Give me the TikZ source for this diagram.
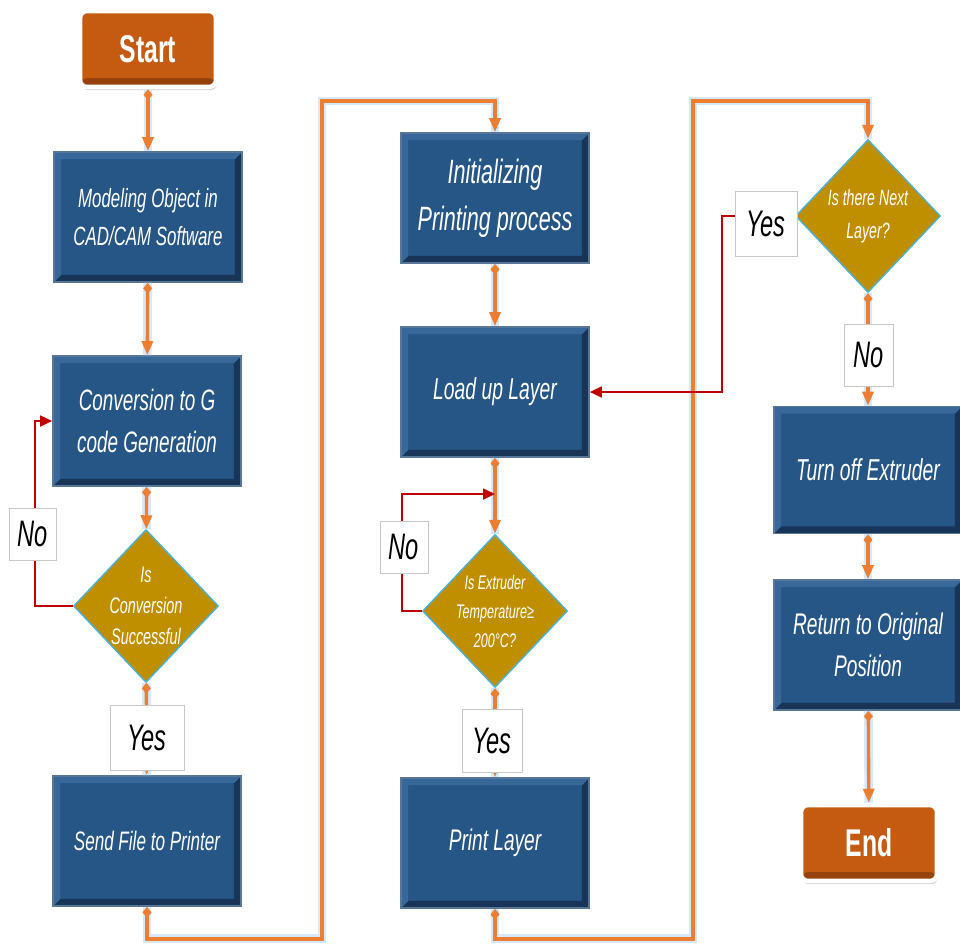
\documentclass[tikz,border=0pt]{standalone}
\usepackage{fontspec}
\setmainfont{Liberation Sans}
\newfontfamily\flowfont[FakeStretch=0.64]{Liberation Sans}
\usetikzlibrary{arrows.meta,shapes.geometric,shadows}
\definecolor{BoxBlue}{RGB}{37,86,134}
\definecolor{BoxLight}{RGB}{55,104,153}
\definecolor{BoxDark}{RGB}{24,52,86}
\definecolor{BoxEdge}{RGB}{88,118,152}
\definecolor{DecGold}{RGB}{191,143,0}
\definecolor{DecEdge}{RGB}{70,178,222}
\definecolor{TermOrange}{RGB}{197,90,17}
\definecolor{TermDark}{RGB}{150,66,12}
\definecolor{FlowOrange}{RGB}{237,125,49}
\definecolor{Glow}{RGB}{212,233,251}
\definecolor{LoopRed}{RGB}{192,0,0}

\begin{document}
\begin{tikzpicture}[
    x=0.02cm, y=-0.02cm,
    txt/.style 2 args={font=\flowfont\itshape\fontsize{#1}{#2}\selectfont},
    proc/.style={draw=BoxEdge, line width=1pt, fill=BoxBlue, minimum width=3.76cm,
      minimum height=2.6cm, inner sep=2pt, align=center, text=white,
      path picture={
        \fill[BoxDark] (path picture bounding box.south west) -- (path picture bounding box.south east)
          -- (path picture bounding box.north east) -- ([xshift=-4pt,yshift=-4pt]path picture bounding box.north east)
          -- ([xshift=-4pt,yshift=4pt]path picture bounding box.south east) -- ([xshift=4pt,yshift=4pt]path picture bounding box.south west) -- cycle;
        \fill[BoxLight] (path picture bounding box.south west) -- (path picture bounding box.north west)
          -- (path picture bounding box.north east) -- ([xshift=-4pt,yshift=-4pt]path picture bounding box.north east)
          -- ([xshift=4pt,yshift=-4pt]path picture bounding box.north west) -- ([xshift=4pt,yshift=4pt]path picture bounding box.south west) -- cycle;
      }},
    term/.style={draw=white, line width=2.6pt, fill=TermOrange, rounded corners=4pt,
      minimum width=2.72cm, minimum height=1.52cm, text=white,
      font=\flowfont\bfseries\fontsize{22}{24}\selectfont,
      drop shadow={opacity=0.4, shadow xshift=0.6pt, shadow yshift=-1.8pt},
      path picture={\fill[TermDark] (path picture bounding box.south west) rectangle ([yshift=5pt]path picture bounding box.south east);}},
    dec/.style={diamond, draw=DecEdge, line width=0.8pt, fill=DecGold, inner sep=0pt,
      minimum width=2.9cm, minimum height=3.06cm},
    dectxt/.style={align=center, text=white},
    ans/.style={draw=black!22, line width=0.4pt, fill=white, inner sep=0pt, txt={21}{21}},
    flow/.style={draw=FlowOrange, line width=1.9pt,
      {Diamond[length=2.2mm,width=1.8mm]}-{Triangle[length=2.8mm,width=2.2mm]},
      preaction={draw=Glow, line width=5pt, -}},
    back/.style={draw=LoopRed, line width=1pt, -{Triangle[length=2.4mm,width=2.2mm]}}
  ]
  \useasboundingbox (0,0) rectangle (960,944);
  % first column
  \node[term] (start) at (148,49) {Start};
  \node[proc, txt={15}{21.6}] (model) at (148,217) {Modeling Object in\\CAD/CAM Software};
  \node[proc, txt={16.8}{24}] (gcode) at (147,421) {Conversion to G\\code Generation};
  \node[dec, label={[dectxt, txt={12.8}{17.6}]center:{Is\\Conversion\\Successful}}] (convok) at (146,606) {};
  \node[proc, txt={15.2}{18}] (send) at (147,841) {Send File to Printer};
  % second column
  \node[proc, txt={19.2}{26.7}] (init) at (495,198) {Initializing\\Printing process};
  \node[proc, txt={17.2}{20}] (load) at (495,392) {Load up Layer};
  \node[dec, label={[dectxt, txt={11.2}{16.5}]center:{Is Extruder\\Temperature≥\\200°C?}}] (tempok) at (495,611) {};
  \node[proc, txt={17}{20}] (print) at (495,843) {Print Layer};
  % third column
  \node[dec, label={[dectxt, txt={12.6}{18.8}]center:{Is there Next\\Layer?}}] (nextlayer) at (868,216) {};
  \node[proc, txt={17.2}{20}, minimum height=2.54cm] (extoff) at (868,470) {Turn off Extruder};
  \node[proc, txt={17}{24}] (home) at (868,645) {Return to Original\\Position};
  \node[term] (end) at (869,843) {End};

  % main flow
  \draw[flow] (start) -- (model);
  \draw[flow] (model) -- (gcode);
  \draw[flow] (gcode) -- (convok);
  \draw[flow] (convok) -- (send);
  \draw[flow] (send.south) -- ++(0,32) -| (322,101) -| (init.north);
  \draw[flow] (init) -- (load);
  \draw[flow] (load) -- (tempok);
  \draw[flow] (tempok) -- (print);
  \draw[flow] (print.south) -- ++(0,30) -| (693,101) -| (nextlayer.north);
  \draw[flow] (nextlayer) -- (extoff);
  \draw[flow] (extoff) -- (home);
  \draw[flow] (home) -- (end);

  % loops back
  \coordinate (merge) at (495,494);
  \draw[back] (convok.west) -- (35,606) |- (gcode.west);
  \draw[back] (tempok.west) -- (402,611) |- (merge);
  \draw[back] (nextlayer.west) -- (722,216) |- (load.east);

  % answers
  \node[ans, minimum width=0.94cm, minimum height=1.04cm] (no1) at (33,534) {No};
  \node[ans, minimum width=1.48cm, minimum height=1.3cm] (yes1) at (147,738) {Yes};
  \node[ans, minimum width=0.96cm, minimum height=1.04cm] (no2) at (404,547) {No};
  \node[ans, minimum width=1.2cm, minimum height=1.26cm] (yes2) at (492,741) {Yes};
  \node[ans, minimum width=1.24cm, minimum height=1.3cm] (yes3) at (766,224) {Yes};
  \node[ans, minimum width=0.98cm, minimum height=1.24cm] (no3) at (869,355) {No};
\end{tikzpicture}
\end{document}
